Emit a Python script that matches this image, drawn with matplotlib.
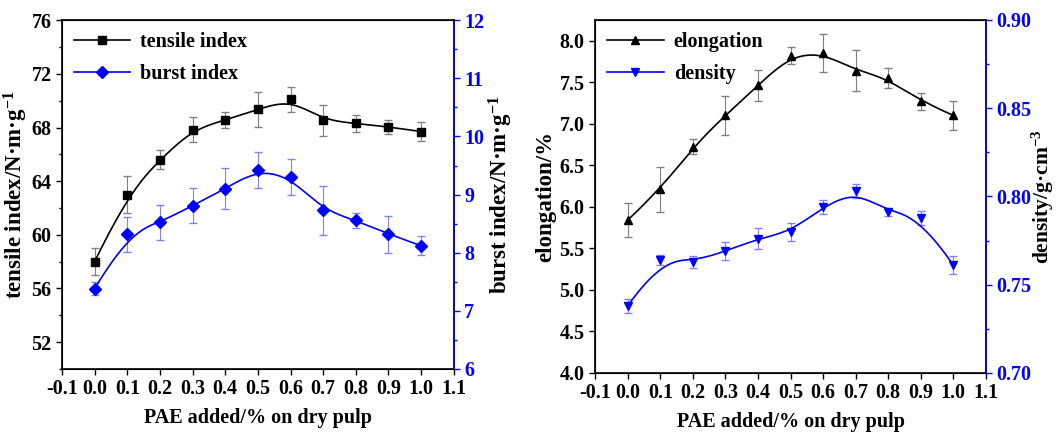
import numpy as np
import matplotlib
matplotlib.use("Agg")
import matplotlib.pyplot as plt
from matplotlib.ticker import MultipleLocator, FormatStrFormatter

plt.rcParams['font.family'] = ['Liberation Serif', 'DejaVu Serif']
plt.rcParams['font.weight'] = 'bold'
plt.rcParams['axes.labelweight'] = 'bold'
plt.rcParams['axes.unicode_minus'] = False
plt.rcParams['mathtext.default'] = 'regular'

# data
pae = [0.0, 0.1, 0.2, 0.3, 0.4, 0.5, 0.6, 0.7, 0.8, 0.9, 1.0]
tensile = [58.0, 63.0, 65.6, 67.85, 68.55, 69.35, 70.1, 68.55, 68.3, 68.05, 67.7]
tensile_err = [1.0, 1.4, 0.7, 0.95, 0.6, 1.3, 0.95, 1.15, 0.6, 0.5, 0.7]
burst = [7.38, 8.32, 8.52, 8.81, 9.10, 9.43, 9.30, 8.73, 8.56, 8.32, 8.12]
burst_err = [0.11, 0.30, 0.30, 0.30, 0.35, 0.31, 0.31, 0.42, 0.13, 0.32, 0.16]
elong = [5.84, 6.21, 6.72, 7.10, 7.46, 7.82, 7.85, 7.64, 7.55, 7.27, 7.10]
elong_err = [0.20, 0.27, 0.09, 0.23, 0.19, 0.10, 0.23, 0.25, 0.12, 0.10, 0.17]
density = [0.738, 0.764, 0.763, 0.769, 0.776, 0.780, 0.794, 0.803, 0.791, 0.788, 0.761]
density_err = [0.004, 0.003, 0.0035, 0.005, 0.006, 0.005, 0.004, 0.004, 0.002, 0.004, 0.005]


def bspline(xs, ys, num=300):
    # clamped cubic B-spline using the data points as control points
    P = np.column_stack([xs, ys]).astype(float)
    n = len(P) - 1
    k = 3
    knots = np.concatenate([np.zeros(k), np.arange(n - k + 2), np.full(k, n - k + 1)]).astype(float)
    t = np.linspace(0, n - k + 1, num)
    t[-1] -= 1e-9
    N = np.zeros((num, len(knots) - 1))
    for i in range(len(knots) - 1):
        N[:, i] = (knots[i] <= t) & (t < knots[i + 1])
    for d in range(1, k + 1):
        Nn = np.zeros((num, len(knots) - 1 - d))
        for i in range(len(knots) - 1 - d):
            a = knots[i + d] - knots[i]
            b = knots[i + d + 1] - knots[i + 1]
            term = 0
            if a > 0:
                term = term + (t - knots[i]) / a * N[:, i]
            if b > 0:
                term = term + (knots[i + d + 1] - t) / b * N[:, i + 1]
            Nn[:, i] = term
        N = Nn
    C = N @ P
    return C[:, 0], C[:, 1]


blue = '#0000ff'
fs = 14.5
lfs = 16.5

fig = plt.figure(figsize=(10.59, 4.36), dpi=100)


def style_axes(ax, ax2):
    ax.set_xlim(-0.1, 1.1)
    ax.xaxis.set_major_locator(MultipleLocator(0.1))
    ax.xaxis.set_major_formatter(FormatStrFormatter('%.1f'))
    ax.tick_params(axis='x', which='both', top=False, direction='out', length=4, width=1, labelsize=fs)
    ax.tick_params(axis='y', which='major', direction='out', length=4, width=1, labelsize=fs)
    ax.tick_params(axis='y', which='minor', direction='out', length=2.5, width=1)
    ax2.tick_params(axis='y', which='major', direction='out', length=4, width=1, labelsize=fs,
                    colors=blue)
    ax2.tick_params(axis='y', which='minor', direction='out', length=2.5, width=1, colors=blue)
    for s in ax.spines.values():
        s.set_linewidth(1.2)
    ax2.spines['right'].set_color(blue)
    ax2.spines['right'].set_linewidth(1.2)
    ax.set_xlabel('PAE added/% on dry pulp', fontsize=fs, labelpad=6)


# left panel
ax1 = fig.add_axes([0.0585, 0.1537, 0.370, 0.800])
ax1b = ax1.twinx()
ax1.errorbar(pae, tensile, yerr=tensile_err, fmt='none', ecolor='#808080', elinewidth=0.8, capsize=3)
ax1b.errorbar(pae, burst, yerr=burst_err, fmt='none', ecolor='#8080ff', elinewidth=0.8, capsize=3)
sx, sy = bspline(pae, tensile)
ax1.plot(sx, sy, color='black', lw=1.2)
ax1.plot(pae, tensile, 's', color='black', ms=6)
sx, sy = bspline(pae, burst)
ax1b.plot(sx, sy, color=blue, lw=1.2)
ax1b.plot(pae, burst, 'D', color=blue, ms=6)
ax1.set_ylim(50, 76)
ax1.yaxis.set_major_locator(MultipleLocator(4))
ax1.yaxis.set_minor_locator(MultipleLocator(2))
ax1b.set_ylim(6, 12)
ax1b.yaxis.set_major_locator(MultipleLocator(1))
ax1b.yaxis.set_minor_locator(MultipleLocator(0.5))
style_axes(ax1, ax1b)
ax1.set_ylabel('tensile index/N·m·g$^{-1}$', fontsize=lfs, labelpad=1)
ax1b.set_ylabel('burst index/N·m·g$^{-1}$', fontsize=lfs, labelpad=2)
h1 = ax1.plot([], [], 's-', color='black', ms=6, lw=1.2)[0]
h2 = ax1.plot([], [], 'D-', color=blue, ms=6, lw=1.2)[0]
ax1.legend([h1, h2], ['tensile index', 'burst index'], loc='upper left', frameon=False,
           fontsize=fs, handlelength=2.8, borderaxespad=0.2, labelspacing=0.6, handletextpad=0.5)

# right panel
ax2 = fig.add_axes([0.562, 0.1445, 0.369, 0.810])
ax2b = ax2.twinx()
ax2.errorbar(pae, elong, yerr=elong_err, fmt='none', ecolor='#808080', elinewidth=0.8, capsize=3)
ax2b.errorbar(pae, density, yerr=density_err, fmt='none', ecolor='#8080ff', elinewidth=0.8, capsize=3)
sx, sy = bspline(pae, elong)
ax2.plot(sx, sy, color='black', lw=1.2)
ax2.plot(pae, elong, '^', color='black', ms=6)
sx, sy = bspline(pae, density)
ax2b.plot(sx, sy, color=blue, lw=1.2)
ax2b.plot(pae, density, 'v', color=blue, ms=6)
ax2.set_ylim(4.0, 8.25)
ax2.yaxis.set_major_locator(MultipleLocator(0.5))
ax2.yaxis.set_major_formatter(FormatStrFormatter('%.1f'))
ax2b.set_ylim(0.70, 0.90)
ax2b.yaxis.set_major_locator(MultipleLocator(0.05))
ax2b.yaxis.set_minor_locator(MultipleLocator(0.025))
ax2b.yaxis.set_major_formatter(FormatStrFormatter('%.2f'))
style_axes(ax2, ax2b)
ax2.set_ylabel('elongation/%', fontsize=lfs, labelpad=2)
ax2b.set_ylabel('density/g·cm$^{-3}$', fontsize=15.5, labelpad=-1)
h3 = ax2.plot([], [], '^-', color='black', ms=6, lw=1.2)[0]
h4 = ax2.plot([], [], 'v-', color=blue, ms=6, lw=1.2)[0]
ax2.legend([h3, h4], ['elongation', 'density'], loc='upper left', frameon=False,
           fontsize=fs, handlelength=2.8, borderaxespad=0.2, labelspacing=0.6, handletextpad=0.5)

fig.savefig('out.png', dpi=100)
